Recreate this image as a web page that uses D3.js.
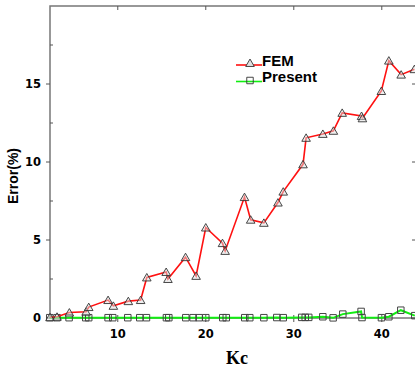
<!DOCTYPE html>
<head>
<meta charset="utf-8">
<script src="https://d3js.org/d3.v7.min.js"></script>
</head>
<style>
  body { margin: 0; background: #fff; }
</style>
<body>
<svg id="chart" width="415" height="368"></svg>
<script>
// FEM error (%) against Kc
const femKc  = [2.3, 3.1, 4.5, 6.4, 6.7, 8.9, 9.5, 11.2, 12.6, 13.3, 15.5, 15.7, 17.7, 18.9, 20.0, 21.9, 22.2, 24.4, 25.1, 26.6, 28.2, 28.8, 31.05, 31.4, 33.3, 34.5, 35.5, 37.7, 37.8, 39.95, 40.8, 42.2, 43.7];
const femErr = [0.05, 0.08, 0.35, 0.4, 0.7, 1.15, 0.78, 1.08, 1.15, 2.6, 2.95, 2.5, 3.9, 2.7, 5.8, 4.8, 4.3, 7.75, 6.3, 6.1, 7.4, 8.1, 9.85, 11.55, 11.8, 12.0, 13.15, 12.95, 12.8, 14.55, 16.5, 15.6, 15.95];

// Present method error (%) against Kc
const preKc  = [2.27, 3.1, 4.47, 6.36, 6.7, 8.9, 9.43, 11.14, 12.5, 13.26, 15.53, 15.8, 17.73, 18.56, 19.24, 20.0, 21.93, 22.33, 24.43, 25.0, 26.6, 28.07, 28.8, 30.9, 31.3, 31.7, 33.3, 34.47, 35.57, 37.65, 37.75, 39.96, 40.8, 42.16, 43.75];
const preErr = [0.02, 0.02, 0.02, 0.02, 0.02, 0.02, 0.02, 0.02, 0.02, 0.02, 0.02, 0.02, 0.02, 0.02, 0.02, 0.02, 0.02, 0.02, 0.02, 0.02, 0.02, 0.03, 0.02, 0.04, 0.04, 0.04, 0.08, 0.01, 0.25, 0.42, 0.03, 0.02, 0.08, 0.5, 0.15];

const xTicks = [10, 20, 30, 40];
const yTicks = [0, 5, 10, 15];
const yMinor = [2.5, 7.5, 12.5, 17.5];

const svg = d3.select("#chart");

const x = d3.scaleLinear().domain([2.3, 44]).range([50, 417]);
const y = d3.scaleLinear().domain([0, 20]).range([318, 6]);

const fem = femKc.map((k, i) => ({k: k, e: femErr[i]}));
const pre = preKc.map((k, i) => ({k: k, e: preErr[i]}));

// frame
svg.append("rect")
    .attr("x", x.range()[0]).attr("y", y.range()[1])
    .attr("width", x.range()[1] - x.range()[0])
    .attr("height", y.range()[0] - y.range()[1])
    .attr("fill", "none")
    .attr("stroke", "#777")
    .attr("stroke-width", 1.5);

// y ticks
svg.append("g").selectAll("line")
    .data(yTicks)
    .join("line")
      .attr("x1", 46).attr("x2", 50)
      .attr("y1", d => y(d)).attr("y2", d => y(d))
      .attr("stroke", "#555");
svg.append("g").selectAll("line")
    .data(yMinor)
    .join("line")
      .attr("x1", 50).attr("x2", 53)
      .attr("y1", d => y(d)).attr("y2", d => y(d))
      .attr("stroke", "#555");
svg.append("g").selectAll("line")
    .data(yTicks)
    .join("line")
      .attr("x1", 412).attr("x2", 417)
      .attr("y1", d => y(d)).attr("y2", d => y(d))
      .attr("stroke", "#555");
svg.append("g").selectAll("text")
    .data(yTicks)
    .join("text")
      .attr("x", 41)
      .attr("y", d => y(d) + 4)
      .attr("text-anchor", "end")
      .style("font-family", "DejaVu Sans")
      .style("font-weight", "bold")
      .style("font-size", "11.5px")
      .text(d => d);

// x ticks
svg.append("g").selectAll("line")
    .data(xTicks)
    .join("line")
      .attr("x1", d => x(d)).attr("x2", d => x(d))
      .attr("y1", 315).attr("y2", 322)
      .attr("stroke", "#555");
svg.append("g").selectAll("line")
    .data(xTicks)
    .join("line")
      .attr("x1", d => x(d)).attr("x2", d => x(d))
      .attr("y1", 6).attr("y2", 10)
      .attr("stroke", "#555");
svg.append("g").selectAll("text")
    .data(xTicks)
    .join("text")
      .attr("x", d => x(d))
      .attr("y", 338)
      .attr("text-anchor", "middle")
      .style("font-family", "DejaVu Sans")
      .style("font-weight", "bold")
      .style("font-size", "11.5px")
      .text(d => d);

// axis titles
svg.append("text")
    .attr("x", 237).attr("y", 364)
    .attr("text-anchor", "middle")
    .style("font-family", "Liberation Serif")
    .style("font-weight", "bold")
    .style("font-size", "18px")
    .text("Kc");
svg.append("text")
    .attr("transform", "translate(18,176) rotate(-90)")
    .attr("text-anchor", "middle")
    .style("font-family", "Liberation Sans")
    .style("font-weight", "bold")
    .style("font-size", "14px")
    .text("Error(%)");

const line = d3.line().x(d => x(d.k)).y(d => y(d.e));
const tri = d3.symbol().type(d3.symbolTriangle).size(32);
const sq = d3.symbol().type(d3.symbolSquare).size(42);

// Present
svg.append("path")
    .datum(pre)
    .attr("d", line)
    .attr("fill", "none")
    .attr("stroke", "#11ee11")
    .attr("stroke-width", 2);
svg.append("g").selectAll("path")
    .data(pre)
    .join("path")
      .attr("d", sq)
      .attr("transform", d => `translate(${x(d.k)},${y(d.e)})`)
      .attr("fill", "none")
      .attr("stroke", "#444")
      .attr("stroke-width", 1);

// FEM
svg.append("path")
    .datum(fem)
    .attr("d", line)
    .attr("fill", "none")
    .attr("stroke", "#ff1111")
    .attr("stroke-width", 1.6);
svg.append("g").selectAll("path")
    .data(fem)
    .join("path")
      .attr("d", tri)
      .attr("transform", d => `translate(${x(d.k)},${y(d.e) + 1})`)
      .attr("fill", "#e0e0e0")
      .attr("fill-opacity", 0.5)
      .attr("stroke", "#333")
      .attr("stroke-width", 0.9);

// legend
const legend = [
  {name: "FEM", color: "#ff1111", sym: tri, fill: "#e0e0e0", y: 65},
  {name: "Present", color: "#11ee11", sym: sq, fill: "none", y: 81.5}
];
const lg = svg.append("g");
lg.selectAll("line")
    .data(legend)
    .join("line")
      .attr("x1", 236).attr("x2", 262)
      .attr("y1", d => d.y).attr("y2", d => d.y)
      .attr("stroke", d => d.color)
      .attr("stroke-width", 1.6);
lg.selectAll("path")
    .data(legend)
    .join("path")
      .attr("d", d => d.sym())
      .attr("transform", d => `translate(250,${d.y - 1})`)
      .attr("fill", d => d.fill)
      .attr("stroke", "#333")
      .attr("stroke-width", 0.9);
lg.selectAll("text")
    .data(legend)
    .join("text")
      .attr("x", 262)
      .attr("y", d => d.y + 0.5)
      .style("font-family", "Liberation Sans")
      .style("font-weight", "bold")
      .style("font-size", "15px")
      .text(d => d.name);
</script>
</body>
